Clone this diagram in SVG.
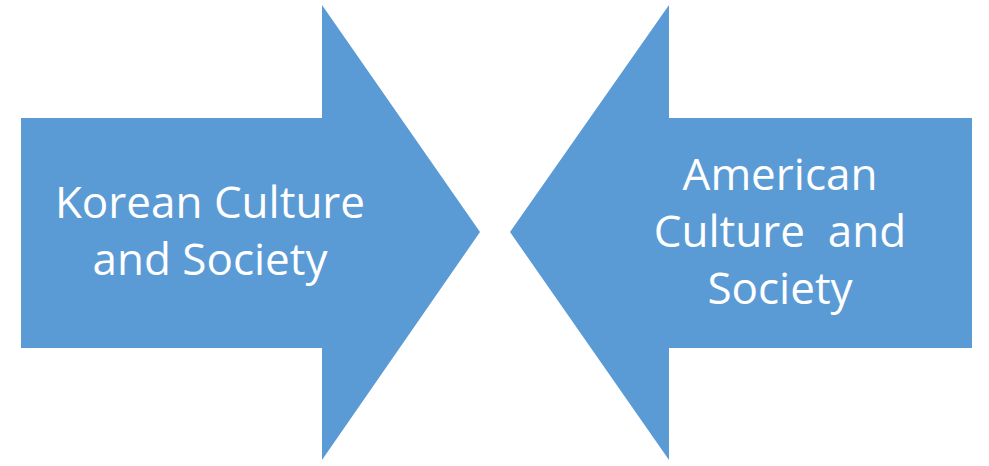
<svg xmlns="http://www.w3.org/2000/svg" width="989" height="466" viewBox="0 0 989 466">
<style>
.arrow{fill:#5B9BD5;stroke:none}
.lbl{fill:#FFFFFF;font-family:"Open Sans","Liberation Sans",sans-serif;font-size:44px;text-anchor:middle}
</style>
<rect width="989" height="466" fill="#FFFFFF"/>
<g id="korean">
<polygon class="arrow" points="21,118 322,118 322,5 480,232 322,460 322,348 21,348"/>
<text class="lbl" x="210" y="218">Korean Culture</text>
<text class="lbl" x="210" y="275">and Society</text>
</g>
<g id="american">
<polygon class="arrow" points="972,118 669,118 669,5 510,232 669,460 669,348 972,348"/>
<text class="lbl" x="780" y="190">American</text>
<text class="lbl" x="780" y="247" xml:space="preserve">Culture  and</text>
<text class="lbl" x="780" y="304">Society</text>
</g>
<g id="connectors"/>
</svg>
